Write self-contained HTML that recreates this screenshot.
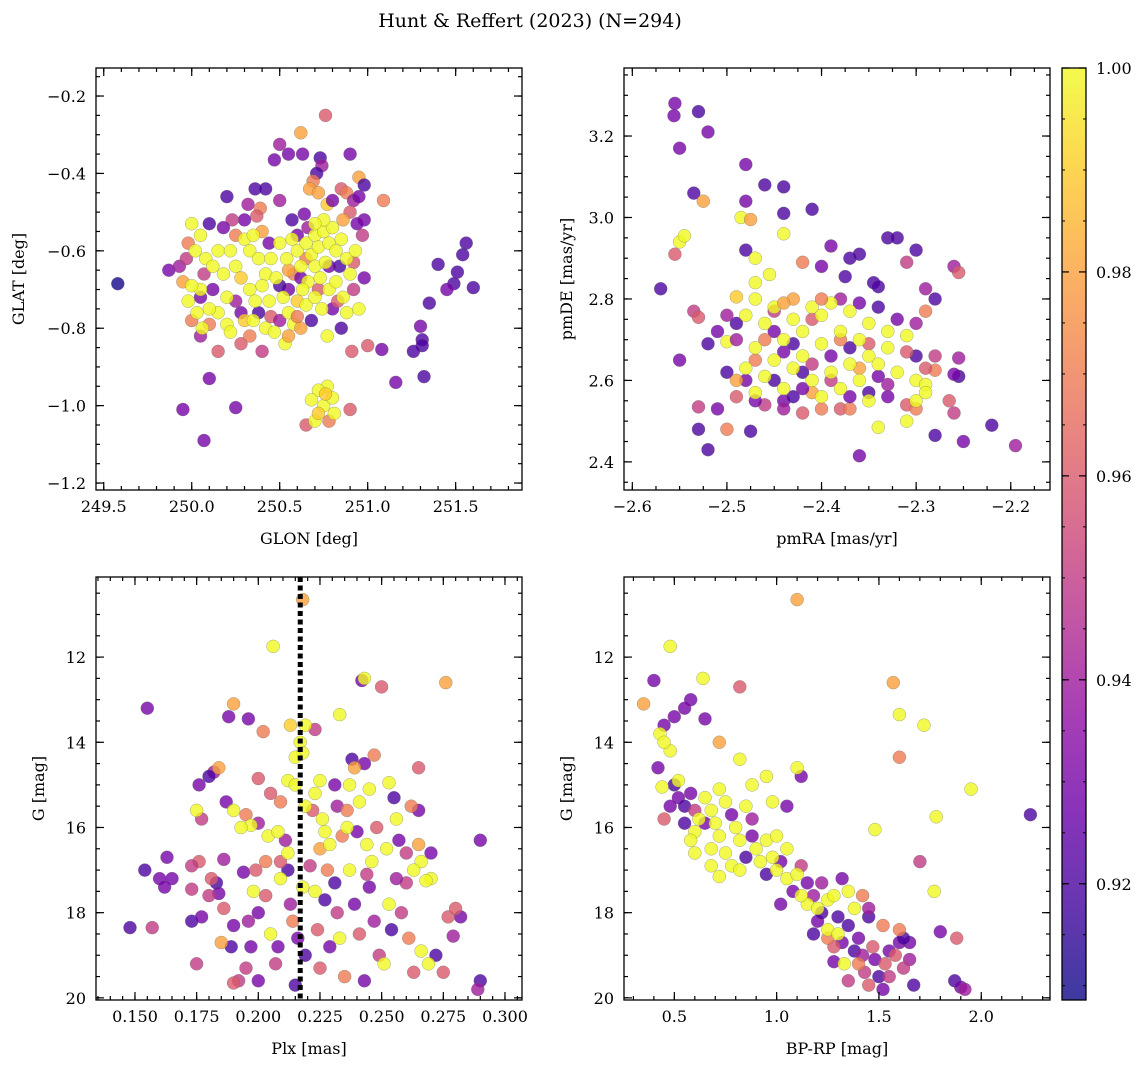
<!DOCTYPE html>
<html><head><meta charset="utf-8"><style>
html,body{margin:0;padding:0;background:#fff;}
svg text{font-family:"DejaVu Serif","Liberation Serif",serif;fill:#000;}
</style></head><body>
<svg id="fig" xmlns="http://www.w3.org/2000/svg" width="1148" height="1067" viewBox="0 0 1148 1067">
<defs>
<linearGradient id="plasma" x1="0" y1="1" x2="0" y2="0">
<stop offset="0" stop-color="#0d0887"/><stop offset="0.1" stop-color="#41049d"/><stop offset="0.2" stop-color="#6a00a8"/><stop offset="0.3" stop-color="#8f0da4"/><stop offset="0.4" stop-color="#b12a90"/><stop offset="0.5" stop-color="#cc4778"/><stop offset="0.6" stop-color="#e16462"/><stop offset="0.7" stop-color="#f2844b"/><stop offset="0.8" stop-color="#fca636"/><stop offset="0.9" stop-color="#fcce25"/><stop offset="1" stop-color="#f0f921"/>
</linearGradient>
</defs>
<text x="530" y="27" font-size="19" text-anchor="middle">Hunt &amp; Reffert (2023) (N=294)</text>
</svg>
<script>
const probRange=[0.9086,1.0];
const cbTicks=[0.92,0.94,0.96,0.98,1.00];
const glonGlat=[[249.58,-0.685,0.91],[249.95,-1.01,0.93],[250.07,-1.09,0.93],[250.1,-0.93,0.93],[250.25,-1.005,0.93],[249.87,-0.65,0.93],[249.93,-0.64,0.94],[249.97,-0.62,0.95],[251.6,-0.695,0.92],[251.56,-0.58,0.92],[251.54,-0.61,0.92],[251.51,-0.655,0.92],[251.49,-0.685,0.92],[251.45,-0.70,0.93],[251.4,-0.635,0.92],[251.35,-0.735,0.92],[251.3,-0.795,0.93],[251.31,-0.83,0.92],[251.31,-0.845,0.92],[251.26,-0.86,0.92],[251.32,-0.925,0.92],[251.16,-0.94,0.93],[251.0,-0.845,0.96],[251.08,-0.855,0.93],[250.91,-0.86,0.96],[250.9,-1.01,0.96],[250.78,-1.04,0.97],[250.65,-1.05,0.96],[250.7,-1.04,1.0],[250.75,-1.0,1.0],[250.8,-0.98,1.0],[250.77,-0.95,1.0],[250.72,-0.96,1.0],[250.68,-0.985,1.0],[250.72,-1.02,0.99],[250.81,-1.02,1.0],[250.76,-0.97,0.99],
[250.76,-0.25,0.96],[250.62,-0.295,0.98],[250.5,-0.325,0.94],[250.55,-0.35,0.93],[250.63,-0.35,0.93],[250.47,-0.365,0.93],[250.73,-0.36,0.92],[250.74,-0.38,0.94],[250.71,-0.40,0.92],[250.69,-0.42,0.97],[250.67,-0.44,0.98],[250.72,-0.45,0.98],[250.9,-0.35,0.93],[250.95,-0.41,0.98],[250.98,-0.43,0.92],[250.85,-0.44,0.96],[250.88,-0.45,0.97],[250.92,-0.47,0.94],[250.95,-0.46,0.93],[250.9,-0.50,0.96],[251.09,-0.47,0.97],[250.98,-0.52,0.93],[250.86,-0.52,0.98],[250.36,-0.44,0.92],[250.42,-0.44,0.92],[250.32,-0.48,0.94],[250.2,-0.46,0.92],[250.39,-0.49,0.97],[250.37,-0.51,0.96],[250.3,-0.52,0.93],[250.23,-0.52,0.95],[250.57,-0.52,0.92],[250.64,-0.505,0.93],[250.77,-0.48,0.99],[250.8,-0.47,0.93],[250.5,-0.47,0.94],
[250.15,-0.86,0.96],[250.28,-0.84,0.96],[250.4,-0.86,0.95],[250.33,-0.82,0.97],[250.1,-0.79,0.97],[250.05,-0.82,0.94],[250.0,-0.78,0.97],[249.98,-0.58,0.97],[249.95,-0.68,0.98],[250.07,-0.66,0.95],[250.12,-0.7,0.93],[250.25,-0.73,0.94],[250.28,-0.76,0.93],[250.38,-0.76,0.92],[250.45,-0.77,0.96],[250.5,-0.78,0.94],[250.55,-0.7,0.93],[250.58,-0.66,0.97],[250.6,-0.56,0.93],[250.66,-0.54,0.94],[250.78,-0.64,0.93],[250.84,-0.64,0.92],[250.92,-0.7,0.95],[250.98,-0.67,0.93],[250.97,-0.56,0.95],[250.85,-0.8,0.92],[250.8,-0.75,0.93],[250.68,-0.78,0.92],[250.55,-0.65,0.98],[250.5,-0.69,0.92],[250.44,-0.58,0.93],[250.4,-0.55,0.98],[250.25,-0.56,0.97],[250.18,-0.54,0.93],[250.1,-0.53,0.92],[250.05,-0.72,0.93],[250.65,-0.62,0.97],[250.62,-0.67,0.93],[250.72,-0.7,0.96],[250.83,-0.73,0.96],[250.94,-0.53,0.93],[250.92,-0.63,0.96],
[250.0,-0.53,1.0],[250.05,-0.56,1.0],[250.02,-0.6,1.0],[250.08,-0.62,1.0],[250.12,-0.64,1.0],[250.15,-0.6,1.0],[250.18,-0.66,1.0],[250.22,-0.6,1.0],[250.25,-0.64,1.0],[250.3,-0.57,1.0],[250.33,-0.6,1.0],[250.35,-0.56,1.0],[250.38,-0.62,1.0],[250.42,-0.66,1.0],[250.45,-0.62,1.0],[250.28,-0.67,0.99],[250.33,-0.7,1.0],[250.36,-0.73,1.0],[250.4,-0.69,1.0],[250.44,-0.73,1.0],[250.48,-0.67,1.0],[250.2,-0.72,1.0],[250.15,-0.76,1.0],[250.1,-0.75,1.0],[250.05,-0.7,1.0],[250.0,-0.69,1.0],[249.98,-0.73,1.0],[250.03,-0.76,1.0],[250.06,-0.8,1.0],[250.2,-0.79,1.0],[250.22,-0.81,1.0],[250.3,-0.78,0.99],[250.35,-0.78,1.0],[250.42,-0.8,1.0],[250.47,-0.81,1.0],[250.53,-0.84,1.0],[250.58,-0.79,1.0],[250.55,-0.76,1.0],[250.52,-0.72,1.0],[250.5,-0.58,1.0],[250.54,-0.62,1.0],[250.57,-0.57,1.0],[250.6,-0.6,1.0],[250.62,-0.64,1.0],[250.65,-0.58,1.0],[250.68,-0.61,1.0],[250.7,-0.56,1.0],[250.72,-0.59,1.0],[250.75,-0.55,1.0],[250.78,-0.58,1.0],[250.8,-0.54,1.0],[250.82,-0.6,1.0],[250.85,-0.57,1.0],[250.88,-0.62,1.0],[250.7,-0.64,1.0],[250.73,-0.67,1.0],[250.76,-0.63,1.0],[250.66,-0.68,1.0],[250.63,-0.7,1.0],[250.6,-0.73,0.99],[250.65,-0.74,1.0],[250.7,-0.72,1.0],[250.74,-0.75,1.0],[250.78,-0.7,1.0],[250.82,-0.68,1.0],[250.86,-0.72,1.0],[250.9,-0.66,1.0],[250.93,-0.6,1.0],[250.95,-0.75,1.0],[250.88,-0.76,1.0],[250.77,-0.82,1.0],[250.62,-0.8,0.98],[250.55,-0.82,0.98],[250.6,-0.77,0.97],[250.75,-0.52,1.0],[250.7,-0.53,1.0]];
const pmraPmde=[[-2.555,3.28,0.93],[-2.556,3.25,0.93],[-2.53,3.26,0.92],[-2.55,3.17,0.93],[-2.52,3.21,0.93],[-2.48,3.13,0.93],[-2.535,3.06,0.92],[-2.525,3.04,0.98],[-2.46,3.08,0.92],[-2.44,3.075,0.92],[-2.48,3.04,0.93],[-2.485,3.0,1.0],[-2.475,2.995,0.98],[-2.44,3.01,0.92],[-2.41,3.02,0.92],[-2.55,2.94,1.0],[-2.545,2.955,1.0],[-2.48,2.92,0.92],[-2.47,2.9,1.0],[-2.44,2.96,1.0],[-2.39,2.93,0.93],[-2.37,2.9,0.92],[-2.4,2.88,0.93],[-2.36,2.91,0.92],[-2.33,2.95,0.92],[-2.32,2.95,0.92],[-2.3,2.92,0.92],[-2.42,2.89,0.97],[-2.57,2.825,0.92],[-2.555,2.91,0.96],[-2.375,2.855,0.92],[-2.345,2.84,0.92],[-2.34,2.83,0.92],[-2.31,2.89,0.95],[-2.26,2.88,0.94],[-2.255,2.865,0.96],[-2.28,2.8,0.92],[-2.29,2.825,0.94],[-2.22,2.49,0.92],[-2.195,2.44,0.94],[-2.25,2.45,0.93],[-2.28,2.465,0.92],[-2.26,2.52,0.95],[-2.265,2.55,0.96],[-2.255,2.61,0.92],[-2.26,2.615,0.93],[-2.255,2.655,0.94],[-2.28,2.625,0.97],[-2.53,2.48,0.92],[-2.52,2.43,0.92],[-2.475,2.475,0.92],[-2.51,2.53,0.93],[-2.53,2.535,0.95],[-2.5,2.48,0.97],[-2.36,2.415,0.93],[-2.34,2.485,1.0],[-2.55,2.65,0.93],[-2.535,2.77,0.95],[-2.53,2.755,0.96],[-2.51,2.72,0.93],[-2.52,2.69,0.92],[-2.49,2.805,0.99],[-2.5,2.695,1.0],
[-2.5,2.62,0.92],[-2.48,2.6,0.93],[-2.46,2.54,0.95],[-2.44,2.55,0.93],[-2.42,2.52,0.96],[-2.4,2.53,0.97],[-2.38,2.53,0.96],[-2.37,2.53,0.97],[-2.35,2.57,0.92],[-2.33,2.56,0.93],[-2.31,2.54,0.96],[-2.3,2.53,0.97],[-2.29,2.63,0.96],[-2.28,2.66,0.95],[-2.3,2.66,0.92],[-2.32,2.75,0.93],[-2.29,2.77,0.97],[-2.3,2.74,0.94],[-2.34,2.78,0.92],[-2.36,2.79,0.93],[-2.38,2.8,0.94],[-2.41,2.75,0.96],[-2.43,2.69,0.92],[-2.45,2.72,0.93],[-2.46,2.7,0.97],[-2.49,2.74,0.92],[-2.49,2.7,0.94],[-2.5,2.76,0.94],[-2.45,2.77,0.95],[-2.44,2.67,0.93],[-2.42,2.62,0.92],[-2.41,2.64,0.95],[-2.39,2.66,0.93],[-2.37,2.68,0.92],[-2.35,2.69,0.96],[-2.34,2.61,0.93],[-2.33,2.59,0.94],[-2.45,2.6,0.92],[-2.47,2.55,0.93],[-2.49,2.56,0.96],[-2.43,2.56,0.92],[-2.39,2.6,0.95],[-2.41,2.57,0.98],[-2.44,2.53,0.94],[-2.37,2.56,0.93],[-2.36,2.63,0.98],[-2.38,2.7,0.97],[-2.47,2.65,0.97],[-2.42,2.58,0.93],[-2.31,2.67,0.96],
[-2.48,2.76,1.0],[-2.46,2.74,1.0],[-2.45,2.78,1.0],[-2.43,2.75,1.0],[-2.42,2.72,1.0],[-2.4,2.76,1.0],[-2.44,2.7,1.0],[-2.47,2.68,1.0],[-2.45,2.65,1.0],[-2.42,2.66,1.0],[-2.4,2.69,1.0],[-2.38,2.72,1.0],[-2.36,2.7,1.0],[-2.35,2.66,1.0],[-2.33,2.68,1.0],[-2.37,2.64,1.0],[-2.39,2.62,1.0],[-2.41,2.6,1.0],[-2.43,2.63,1.0],[-2.46,2.61,1.0],[-2.48,2.63,1.0],[-2.47,2.8,1.0],[-2.455,2.86,1.0],[-2.47,2.84,1.0],[-2.41,2.78,1.0],[-2.39,2.79,1.0],[-2.37,2.77,1.0],[-2.35,2.74,1.0],[-2.34,2.64,1.0],[-2.32,2.62,1.0],[-2.3,2.6,1.0],[-2.29,2.59,1.0],[-2.29,2.57,1.0],[-2.3,2.55,1.0],[-2.31,2.5,1.0],[-2.35,2.55,1.0],[-2.38,2.58,1.0],[-2.4,2.56,1.0],[-2.36,2.6,1.0],[-2.44,2.58,1.0],[-2.47,2.57,1.0],[-2.49,2.6,0.98],[-2.33,2.72,1.0],[-2.31,2.71,1.0],[-2.43,2.8,0.98],[-2.44,2.79,0.98],[-2.4,2.8,0.97]];
const plxG=[[0.155,13.2,0.93],[0.188,13.4,0.93],[0.196,13.45,0.93],[0.242,12.55,0.93],[0.238,14.4,0.92],[0.243,14.5,0.93],[0.182,14.7,0.94],[0.18,14.8,0.92],[0.176,15.0,0.93],[0.2,15.9,0.94],[0.211,16.3,0.94],[0.232,15.5,0.94],[0.24,16.1,0.93],[0.257,16.3,0.93],[0.265,15.6,0.93],[0.255,15.3,0.92],[0.27,16.6,0.93],[0.29,16.3,0.93],[0.163,16.7,0.93],[0.16,17.2,0.93],[0.165,17.2,0.93],[0.162,17.4,0.93],[0.154,17.0,0.92],[0.148,18.35,0.92],[0.173,18.2,0.92],[0.177,18.1,0.93],[0.183,17.3,0.92],[0.184,17.55,0.93],[0.19,18.3,0.93],[0.189,18.8,0.92],[0.2,18.0,0.93],[0.208,18.8,0.93],[0.212,17.0,0.92],[0.216,18.6,0.93],[0.219,19.0,0.92],[0.227,17.7,0.92],[0.229,18.8,0.93],[0.231,17.3,0.92],[0.239,17.8,0.93],[0.243,19.6,0.93],[0.245,17.4,0.93],[0.254,18.4,0.92],[0.272,19.0,0.92],[0.282,18.1,0.93],[0.29,19.6,0.92],[0.197,18.8,0.93],[0.2,19.6,0.93],[0.215,19.7,0.92],[0.194,17.05,0.93],[0.187,15.4,0.93],[0.231,15.0,0.93],
[0.202,13.75,0.97],[0.223,13.7,0.95],[0.25,12.7,0.96],[0.247,14.3,0.97],[0.265,14.6,0.96],[0.177,15.8,0.95],[0.2,14.85,0.96],[0.205,15.2,0.96],[0.209,15.4,0.97],[0.222,15.6,0.96],[0.234,16.2,0.97],[0.236,15.6,0.97],[0.248,16.0,0.96],[0.26,16.6,0.95],[0.262,15.5,0.97],[0.26,17.3,0.95],[0.157,18.35,0.95],[0.176,16.8,0.96],[0.173,16.9,0.95],[0.173,17.45,0.95],[0.175,19.2,0.95],[0.186,17.9,0.96],[0.192,19.6,0.95],[0.19,19.65,0.96],[0.196,18.2,0.94],[0.199,17.0,0.96],[0.203,16.8,0.97],[0.203,17.6,0.96],[0.207,19.2,0.95],[0.213,17.8,0.94],[0.214,18.2,0.97],[0.221,16.9,0.95],[0.224,18.4,0.96],[0.225,19.3,0.96],[0.232,18.0,0.95],[0.235,19.5,0.97],[0.241,18.5,0.96],[0.247,18.2,0.94],[0.249,19.0,0.95],[0.256,17.2,0.94],[0.258,18.0,0.95],[0.261,18.6,0.97],[0.263,19.4,0.96],[0.275,19.4,0.96],[0.277,18.1,0.96],[0.279,18.55,0.94],[0.28,17.9,0.96],[0.289,19.8,0.94],[0.195,19.3,0.95],[0.181,17.2,0.96],[0.244,17.1,0.95],[0.186,16.75,0.94],[0.18,17.6,0.95],[0.209,16.8,0.96],[0.228,17.0,0.97],[0.195,15.7,0.97],
[0.218,10.65,0.98],[0.19,13.1,0.98],[0.276,12.6,0.98],[0.239,14.6,0.98],[0.184,14.6,0.98],[0.265,16.4,0.98],[0.185,18.7,0.98],[0.225,16.5,0.98],
[0.206,11.75,1.0],[0.233,13.35,1.0],[0.213,13.6,0.99],[0.219,13.6,1.0],[0.217,14.0,1.0],[0.218,14.25,1.0],[0.215,14.35,1.0],[0.243,12.5,1.0],[0.175,15.6,1.0],[0.212,14.9,1.0],[0.215,15.0,1.0],[0.225,14.9,1.0],[0.223,15.2,1.0],[0.237,15.0,1.0],[0.241,15.4,1.0],[0.245,15.1,1.0],[0.253,14.95,1.0],[0.256,15.8,1.0],[0.19,15.6,1.0],[0.197,15.95,1.0],[0.193,16.0,1.0],[0.204,16.2,1.0],[0.208,16.1,1.0],[0.219,15.5,1.0],[0.226,15.8,1.0],[0.227,16.1,1.0],[0.229,16.4,1.0],[0.236,16.0,1.0],[0.244,16.4,1.0],[0.252,16.5,1.0],[0.266,16.8,1.0],[0.263,17.0,1.0],[0.27,17.2,1.0],[0.268,17.25,1.0],[0.198,17.5,1.0],[0.205,18.5,1.0],[0.209,17.2,1.0],[0.218,17.4,1.0],[0.223,17.5,1.0],[0.233,18.6,1.0],[0.237,17.0,1.0],[0.251,19.2,1.0],[0.253,17.8,1.0],[0.266,18.9,1.0],[0.269,19.2,1.0],[0.246,16.8,1.0],[0.212,16.6,1.0]];
const bprpG=[[0.4,12.55,0.93],[0.58,13.0,0.93],[0.65,13.45,0.93],[0.55,13.2,0.93],[0.5,13.4,0.93],[0.45,13.6,0.93],[0.42,14.6,0.93],[1.12,14.8,0.93],[2.24,15.7,0.92],[1.87,19.6,0.92],[1.9,19.75,0.93],[1.92,19.8,0.94],[1.8,18.45,0.93],[1.65,18.7,0.93],[0.5,15.0,0.92],[0.52,15.3,0.93],[0.55,15.5,0.92],[0.58,15.2,0.93],[0.78,15.7,0.93],[0.88,15.8,0.94],[0.85,16.7,0.92],[1.02,16.8,0.93],[1.08,17.5,0.93],[1.15,17.3,0.93],[1.18,17.6,0.94],[1.2,18.2,0.93],[1.22,18.0,0.92],[1.3,18.1,0.92],[1.32,18.7,0.93],[1.35,18.3,0.92],[1.38,18.9,0.92],[1.4,18.6,0.93],[1.42,19.0,0.94],[1.45,18.1,0.92],[1.48,19.1,0.93],[1.5,19.5,0.92],[1.55,18.9,0.93],[1.6,18.7,0.93],[1.62,18.6,0.92],[1.65,19.1,0.94],[1.67,19.7,0.92],[1.45,17.9,0.94],[1.32,17.2,0.93],[1.22,17.3,0.94],[1.05,15.5,0.93],[0.65,15.9,0.93],[0.88,16.2,0.93],[0.95,17.1,0.92],[1.02,17.8,0.93],[1.18,18.5,0.92],[1.28,19.15,0.93],[1.52,19.8,0.93],[0.55,15.9,0.92],[0.48,15.5,0.93],
[0.82,12.7,0.96],[1.6,14.35,0.97],[1.7,16.8,0.95],[1.88,18.6,0.96],[0.6,15.6,0.95],[1.12,16.9,0.95],[1.28,18.8,0.96],[1.43,19.4,0.95],[1.47,18.8,0.96],[1.52,18.3,0.97],[1.53,19.2,0.96],[1.55,19.5,0.95],[1.58,19.0,0.96],[1.62,19.3,0.95],[1.6,18.4,0.97],[1.42,17.6,0.97],[1.25,18.6,0.97],[1.4,19.2,0.97],[1.35,19.6,0.95],[1.45,19.7,0.96],[0.45,15.8,0.96],
[1.1,10.65,0.98],[0.35,13.1,0.98],[1.57,12.6,0.98],[0.72,14.0,0.98],
[0.48,11.75,1.0],[0.64,12.5,1.0],[1.6,13.35,1.0],[1.72,13.6,1.0],[0.43,13.8,1.0],[0.48,14.2,1.0],[0.45,14.0,1.0],[0.44,15.05,1.0],[0.52,14.9,1.0],[0.82,14.4,1.0],[1.1,14.6,1.0],[1.48,16.05,1.0],[1.95,15.1,1.0],[1.78,15.75,1.0],[1.77,17.5,1.0],[0.62,15.8,1.0],[0.6,16.1,1.0],[0.58,16.3,1.0],[0.65,15.3,1.0],[0.68,15.6,1.0],[0.7,15.9,1.0],[0.72,16.2,1.0],[0.68,16.5,1.0],[0.75,15.4,1.0],[0.8,16.0,1.0],[0.82,16.3,1.0],[0.85,15.5,1.0],[0.9,16.5,1.0],[0.92,16.8,1.0],[0.75,16.6,1.0],[0.78,16.9,1.0],[0.72,17.15,1.0],[0.82,17.0,1.0],[0.95,16.3,1.0],[0.98,16.7,1.0],[1.0,17.0,1.0],[1.05,16.5,1.0],[1.05,17.2,1.0],[1.1,17.1,1.0],[1.15,17.8,1.0],[1.2,17.9,1.0],[1.25,17.7,1.0],[1.25,18.4,1.0],[1.28,17.6,1.0],[1.3,18.5,1.0],[1.33,19.2,1.0],[1.35,17.5,1.0],[1.38,17.9,1.0],[1.12,17.6,1.0],[1.0,16.2,1.0],[0.98,15.4,1.0],[0.88,15.0,1.0],[0.95,14.8,1.0],[0.72,15.1,1.0],[0.6,16.6,1.0],[0.68,16.9,1.0]];
const plxRef=[0.217];

const NS="http://www.w3.org/2000/svg";
const svg=document.getElementById('fig');
function mk(tag,attrs,parent){const e=document.createElementNS(NS,tag);for(const k in attrs)e.setAttribute(k,attrs[k]);(parent||svg).appendChild(e);return e;}
const stops=[[0,[13,8,135]],[0.1,[65,4,157]],[0.2,[106,0,168]],[0.3,[143,13,164]],[0.4,[177,42,144]],[0.5,[204,71,120]],[0.6,[225,100,98]],[0.7,[242,132,75]],[0.8,[252,166,54]],[0.9,[252,206,37]],[1,[240,249,33]]];
function plasma(p){let t=(p-probRange[0])/(probRange[1]-probRange[0]);t=Math.max(0,Math.min(1,t));
for(let i=1;i<stops.length;i++){if(t<=stops[i][0]){const a=stops[i-1],b=stops[i];const f=(t-a[0])/(b[0]-a[0]);return 'rgb('+[0,1,2].map(j=>Math.round(a[1][j]+f*(b[1][j]-a[1][j]))).join(',')+')';}}return 'rgb(240,249,33)';}
function fmt(v,d){const s=Math.abs(v).toFixed(d);return (v<-1e-9?'\u2212':'')+s;}

function panel(o){
  const g=mk('g',{});
  
  
  const sx=v=>o.x0+(v-o.xd[0])/(o.xd[1]-o.xd[0])*(o.x1-o.x0);
  const sy=o.inv?(v=>o.y0+(v-o.yd[0])/(o.yd[1]-o.yd[0])*(o.y1-o.y0)):(v=>o.y1-(v-o.yd[0])/(o.yd[1]-o.yd[0])*(o.y1-o.y0));
  const pts=mk('g',{},g);
  
  
  o.data.forEach(d=>{const c=mk('circle',{cx:sx(d[0]).toFixed(1),cy:sy(d[1]).toFixed(1),r:6.5,fill:plasma(d[2]),'fill-opacity':0.8,stroke:'#666','stroke-width':0.4,'stroke-opacity':0.7},pts);
    
    });
  if(o.vline!==undefined){const l=mk('line',{x1:sx(o.vline),x2:sx(o.vline),y1:o.y0,y2:o.y1,stroke:'#000','stroke-width':5,'stroke-dasharray':'5,3.5'},g);
    
    }
  const ax=mk('g',{stroke:'#000','stroke-width':1.2},g);
  
  
  for(let v=o.xm[0];v<=o.xd[1]+1e-9;v+=o.xm[1]){if(v<o.xd[0])continue;const X=sx(v);mk('line',{x1:X,x2:X,y1:o.y1,y2:o.y1-4},ax);mk('line',{x1:X,x2:X,y1:o.y0,y2:o.y0+4},ax);}
  for(let v=o.ym[0];v<=o.yd[1]+1e-9;v+=o.ym[1]){if(v<o.yd[0])continue;const Y=sy(v);mk('line',{x1:o.x0,x2:o.x0+4,y1:Y,y2:Y},ax);mk('line',{x1:o.x1,x2:o.x1-4,y1:Y,y2:Y},ax);}
  o.xt.forEach(v=>{const X=sx(v);mk('line',{x1:X,x2:X,y1:o.y1,y2:o.y1-8},ax);mk('line',{x1:X,x2:X,y1:o.y0,y2:o.y0+8},ax);
    const t=mk('text',{x:X,y:o.y1+22,'font-size':16,'text-anchor':'middle'},g);t.textContent=fmt(v,o.xdec);
    
    });
  o.yt.forEach(v=>{const Y=sy(v);mk('line',{x1:o.x0,x2:o.x0+8,y1:Y,y2:Y},ax);mk('line',{x1:o.x1,x2:o.x1-8,y1:Y,y2:Y},ax);
    const t=mk('text',{x:o.x0-10,y:Y+6,'font-size':16,'text-anchor':'end'},g);t.textContent=fmt(v,o.ydec);
    
    });
  const fr=mk('rect',{x:o.x0,y:o.y0,width:o.x1-o.x0,height:o.y1-o.y0,fill:'none',stroke:'#000','stroke-width':1.3},g);
  
  
  const xl=mk('text',{x:(o.x0+o.x1)/2,y:o.y1+54,'font-size':16,'text-anchor':'middle'},g);xl.textContent=o.xlab;
  
  
  const yx=o.ylx,yy=(o.y0+o.y1)/2;
  const yl=mk('text',{x:yx,y:yy,'font-size':16,'text-anchor':'middle',transform:`rotate(-90 ${yx} ${yy})`},g);yl.textContent=o.ylab;
  
  
}
panel({name:'glon-glat-panel',data:glonGlat,x0:96,x1:522,y0:68,y1:490,xd:[249.456,251.877],yd:[-1.218,-0.1276],xt:[249.5,250.0,250.5,251.0,251.5],yt:[-1.2,-1.0,-0.8,-0.6,-0.4,-0.2],xm:[249.5,0.1],ym:[-1.2,0.05],xdec:1,ydec:1,xlab:'GLON [deg]',ylab:'GLAT [deg]',ylx:24});
panel({name:'proper-motion-panel',data:pmraPmde,x0:624,x1:1050,y0:68,y1:490,xd:[-2.6088,-2.1585],yd:[2.331,3.367],xt:[-2.6,-2.5,-2.4,-2.3,-2.2],yt:[2.4,2.6,2.8,3.0,3.2],xm:[-2.6,0.025],ym:[2.35,0.05],xdec:1,ydec:1,xlab:'pmRA [mas/yr]',ylab:'pmDE [mas/yr]',ylx:572});
panel({name:'parallax-magnitude-panel',data:plxG,vline:plxRef[0],inv:true,x0:96,x1:522,y0:577,y1:1000,xd:[0.1342,0.3069],yd:[10.12,20.05],xt:[0.150,0.175,0.200,0.225,0.250,0.275,0.300],yt:[12,14,16,18,20],xm:[0.135,0.005],ym:[10.5,0.5],xdec:3,ydec:0,xlab:'Plx [mas]',ylab:'G [mag]',ylx:44});
panel({name:'color-magnitude-panel',data:bprpG,inv:true,x0:624,x1:1050,y0:577,y1:1000,xd:[0.254,2.336],yd:[10.12,20.05],xt:[0.5,1.0,1.5,2.0],yt:[12,14,16,18,20],xm:[0.3,0.1],ym:[10.5,0.5],xdec:1,ydec:0,xlab:'BP-RP [mag]',ylab:'G [mag]',ylx:572});

(function(){
  const cb=mk('g',{});
  
  
  const cx0=1062,cx1=1086,cy0=68,cy1=1000;
  const r=mk('rect',{x:cx0,y:cy0,width:cx1-cx0,height:cy1-cy0,fill:'url(#plasma)','fill-opacity':0.8},cb);
  
  
  const cy=v=>cy1-(v-probRange[0])/(probRange[1]-probRange[0])*(cy1-cy0);
  for(let v=0.91;v<=1.0001;v+=0.005){const Y=cy(v);mk('line',{x1:cx1,x2:cx1-3,y1:Y,y2:Y,stroke:'#000','stroke-width':1},cb);mk('line',{x1:cx0,x2:cx0+3,y1:Y,y2:Y,stroke:'#000','stroke-width':1},cb);}
  cbTicks.forEach(v=>{const Y=cy(v);mk('line',{x1:cx1,x2:cx1-7,y1:Y,y2:Y,stroke:'#000','stroke-width':1.2},cb);mk('line',{x1:cx0,x2:cx0+7,y1:Y,y2:Y,stroke:'#000','stroke-width':1.2},cb);
    const t=mk('text',{x:cx1+10,y:Y+6,'font-size':16},cb);t.textContent=v.toFixed(2);
    
    });
  mk('rect',{x:cx0,y:cy0,width:cx1-cx0,height:cy1-cy0,fill:'none',stroke:'#000','stroke-width':1.3},cb);
})();
</script>
</body></html>
